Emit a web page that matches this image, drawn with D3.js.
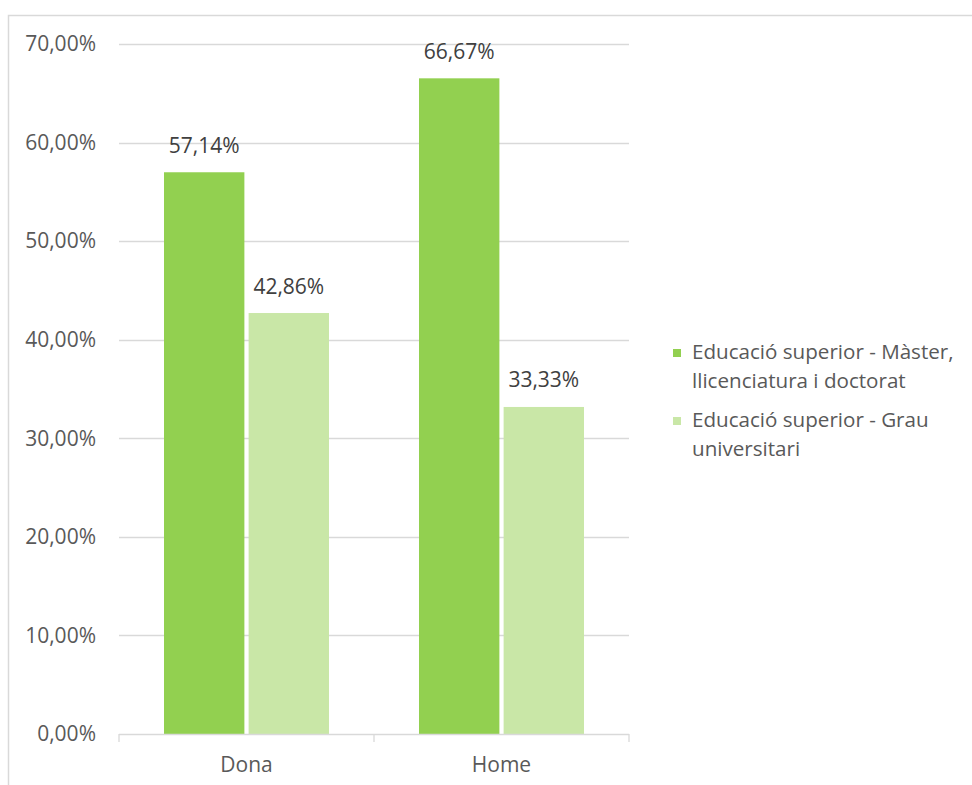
<!DOCTYPE html>
<html><head><meta charset="utf-8">
<script src="https://cdn.jsdelivr.net/npm/d3@7"></script>
<style>body{margin:0;background:#fff}svg{display:block}</style>
</head><body>
<script>
const categories = ["Dona", "Home"];
const seriesNames = ["Educació superior - Màster, llicenciatura i doctorat", "Educació superior - Grau universitari"];
const masterValues = [57.14, 66.67];
const grauValues = [42.86, 33.33];
const yTicks = [0, 10, 20, 30, 40, 50, 60, 70];
const legendLines = [["Educació superior - Màster,", "llicenciatura i doctorat"], ["Educació superior - Grau", "universitari"]];
const colors = ["#92D050", "#C9E7A7"];

(function () {
const W = 972, H = 785;
const svg = d3.select("body").append("svg").attr("width", W).attr("height", H);
const font = "'Open Sans', sans-serif";
const txt = "#595959";
const fs = 21;

// outer border
svg.append("rect").attr("x", 8.5).attr("y", 15.5).attr("width", 1000).attr("height", 1000)
  .attr("fill", "none").attr("stroke", "#d9d9d9").attr("stroke-width", 1.5);

const pLeft = 119, pRight = 629, pTop = 44, pBottom = 734;
const y = d3.scaleLinear().domain([0, 70]).range([pBottom, pTop]);
const x0 = d3.scaleBand().domain(categories).range([pLeft, pRight]).paddingInner(0).paddingOuter(0);
const x1 = d3.scaleBand().domain([0, 1]).range([45, x0.bandwidth() - 45]).paddingInner(0.05);

// gridlines
svg.append("g").selectAll("line").data(yTicks.filter(d => d > 0)).join("line")
  .attr("x1", pLeft).attr("x2", pRight).attr("y1", d => Math.round(y(d)) + 0.5).attr("y2", d => Math.round(y(d)) + 0.5)
  .attr("stroke", "#d9d9d9").attr("stroke-width", 1.3);

// y labels
svg.append("g").selectAll("text").data(yTicks).join("text")
  .attr("x", 96).attr("y", d => y(d)).attr("dy", "0.35em").attr("text-anchor", "end")
  .attr("font-family", font).attr("font-size", fs).attr("fill", txt)
  .text(d => d.toFixed(2).replace(".", ",") + "%");

// bars
const data = categories.map((c, i) => ({c, vals: [masterValues[i], grauValues[i]]}));
const g = svg.append("g").selectAll("g").data(data).join("g")
  .attr("transform", d => `translate(${x0(d.c)},0)`);
g.selectAll("rect").data(d => d.vals.map((v, k) => ({v, k}))).join("rect")
  .attr("x", d => x1(d.k)).attr("width", x1.bandwidth())
  .attr("y", d => y(d.v) + 1.5).attr("height", d => y(0) - y(d.v) - 1.5)
  .attr("fill", d => colors[d.k]);
g.selectAll("text").data(d => d.vals.map((v, k) => ({v, k}))).join("text")
  .attr("x", d => x1(d.k) + x1.bandwidth() / 2).attr("y", d => y(d.v) - 18)
  .attr("text-anchor", "middle").attr("font-family", font).attr("font-size", fs).attr("fill", "#404040")
  .text(d => d.v.toFixed(2).replace(".", ",") + "%");

// x axis
const xa = svg.append("g").attr("transform", `translate(0,${pBottom})`);
xa.append("line").attr("x1", pLeft).attr("x2", pRight).attr("y1", 0.5).attr("y2", 0.5)
  .attr("stroke", "#d9d9d9").attr("stroke-width", 1.3);
const ticksX = [pLeft, pLeft + x0.bandwidth(), pRight];
xa.selectAll("line.t").data(ticksX).join("line").attr("class", "t")
  .attr("x1", d => d).attr("x2", d => d).attr("y1", 0).attr("y2", 8)
  .attr("stroke", "#d9d9d9").attr("stroke-width", 1.3);
xa.selectAll("text").data(categories).join("text")
  .attr("x", d => x0(d) + x0.bandwidth() / 2).attr("y", 38)
  .attr("text-anchor", "middle").attr("font-family", font).attr("font-size", fs).attr("fill", txt)
  .text(d => d);

// legend
const lg = svg.append("g");
legendLines.forEach((lines, i) => {
  const baseY = 359 + i * 68;
  lg.append("rect").attr("x", 673).attr("y", baseY - 10).attr("width", 8).attr("height", 8).attr("fill", colors[i]);
  lines.forEach((l, j) => {
    lg.append("text").attr("x", 692).attr("y", baseY + j * 29)
      .attr("font-family", font).attr("font-size", 20.6).attr("fill", txt).text(l);
  });
});
})();
</script>
</body></html>
